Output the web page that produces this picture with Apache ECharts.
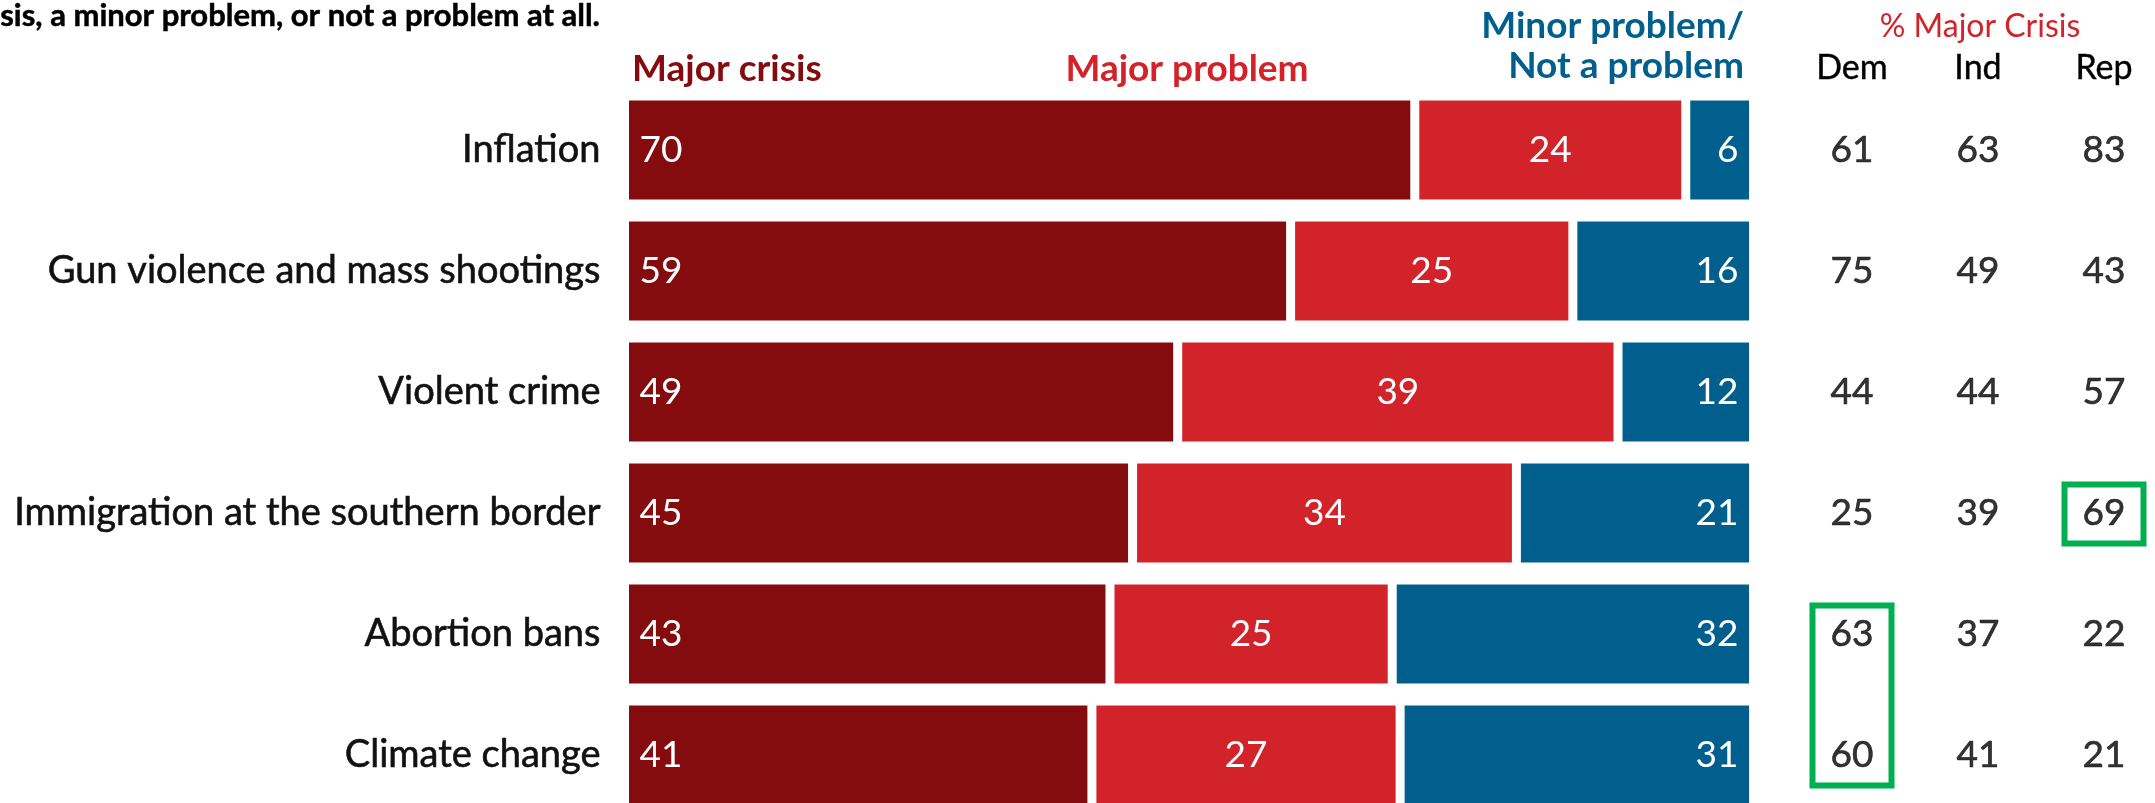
<!DOCTYPE html>
<html>
<head>
<meta charset="utf-8">
<script src="https://cdn.jsdelivr.net/npm/echarts@6/dist/echarts.min.js"></script>
<style>
html,body{margin:0;padding:0;background:#fff;overflow:hidden;width:2155px;height:803px;}
#chart{width:2220px;height:860px;}
</style>
</head>
<body>
<div id="chart"></div>
<script>
const categories = ['Inflation', 'Gun violence and mass shootings', 'Violent crime', 'Immigration at the southern border', 'Abortion bans', 'Climate change'];
const majorCrisis = [70, 59, 49, 45, 43, 41.4];
const majorProblem = [24, 25, 39, 34, 25, 27.3];
const minorNotProblem = [6, 16, 12, 21, 32, 31.3];
const partyCols = ['Dem', 'Ind', 'Rep'];
const demCrisis = [61, 75, 44, 25, 63, 60];
const indCrisis = [63, 49, 44, 39, 37, 41];
const repCrisis = [83, 43, 57, 69, 22, 21];
const seriesNames = ['Major crisis', 'Major problem', 'Minor problem/\nNot a problem'];
const subtitleText = 'sis, a minor problem, or not a problem at all.';
const rightTitle = '% Major Crisis';
// highlighted cells: column, first row, last row
const highlightCells = [['Rep', 3, 3], ['Dem', 4, 5]];

const FONT = 'Lato, "Noto Sans", sans-serif';
const C_DARK = '#840C0F', C_RED = '#D3232A', C_BLUE = '#005F8C', C_GREEN = '#00B050';

const partyData = [demCrisis, indCrisis, repCrisis];
const scatterData = [];
partyCols.forEach((p, c) => categories.forEach((cat, r) => scatterData.push([p, cat, partyData[c][r]])));

const chart = echarts.init(document.getElementById('chart'), null, {renderer: 'canvas'});

const BORDER = 4.5;
const barLabelBase = {show: true, color: '#fff', fontFamily: FONT, fontSize: 37, formatter: p => Math.round(p.value)};

function barSeries(name, data, color, labelPos, dist) {
  return {
    type: 'bar', name: name, stack: 'all', data: data, barWidth: 108,
    xAxisIndex: 0, yAxisIndex: 0,
    itemStyle: {color: color, borderColor: '#fff', borderWidth: BORDER},
    label: Object.assign({}, barLabelBase, {position: labelPos, distance: dist}),
    emphasis: {disabled: true}, animation: false
  };
}

const option = {
  animation: false,
  grid: [
    {left: 624.5, width: 1129, top: 89.5, height: 726},
    {left: 1789, width: 378, top: 89.5, height: 726}
  ],
  xAxis: [
    {type: 'value', gridIndex: 0, min: 0, max: 100, show: false},
    {type: 'category', gridIndex: 1, data: partyCols, position: 'top',
     axisLine: {show: false}, axisTick: {show: false}, splitLine: {show: false},
     axisLabel: {color: '#000', fontFamily: FONT, fontSize: 34, margin: 4,
                 textBorderColor: '#000', textBorderWidth: 0.4}}
  ],
  yAxis: [
    {type: 'category', gridIndex: 0, data: categories, inverse: true,
     axisLine: {show: false}, axisTick: {show: false},
     axisLabel: {color: '#111', fontFamily: FONT, fontSize: 38, margin: 24,
                 textBorderColor: '#111', textBorderWidth: 0.6}},
    {type: 'category', gridIndex: 1, data: categories, inverse: true, show: false}
  ],
  series: [
    barSeries(seriesNames[0], majorCrisis, C_DARK, 'insideLeft', 15),
    barSeries(seriesNames[1], majorProblem, C_RED, 'inside', 0),
    barSeries(seriesNames[2], minorNotProblem, C_BLUE, 'insideRight', 15),
    {type: 'scatter', xAxisIndex: 1, yAxisIndex: 1, data: scatterData, symbolSize: 0,
     label: {show: true, position: 'inside', color: '#000', fontFamily: FONT, fontSize: 37,
             textBorderColor: '#000', textBorderWidth: 0.6,
             formatter: p => p.value[2]},
     emphasis: {disabled: true}}
  ],
  graphic: [
    {type: 'text', left: 0, top: 0, style: {text: subtitleText, fill: '#000', font: 'bold 31px ' + FONT, stroke: '#000', lineWidth: 0.5}},
    {type: 'text', x: 632, y: 69, style: {text: seriesNames[0], fill: C_DARK, font: 'bold 37px ' + FONT, verticalAlign: 'middle', align: 'left'}},
    {type: 'text', x: 1187, y: 69, style: {text: seriesNames[1], fill: C_RED, font: 'bold 37px ' + FONT, verticalAlign: 'middle', align: 'center'}},
    {type: 'text', x: 1744, y: 26, style: {text: 'Minor problem/', fill: C_BLUE, font: 'bold 37px ' + FONT, verticalAlign: 'middle', align: 'right'}},
    {type: 'text', x: 1744, y: 66, style: {text: 'Not a problem', fill: C_BLUE, font: 'bold 37px ' + FONT, verticalAlign: 'middle', align: 'right'}},
    {type: 'text', x: 1980, y: 27, style: {text: rightTitle, fill: C_RED, font: '32px ' + FONT, verticalAlign: 'middle', align: 'center'}}
  ]
};
chart.setOption(option);

// Highlight boxes positioned through the second grid's scales
const boxes = highlightCells.map(([col, r0, r1]) => {
  const p0 = chart.convertToPixel({gridIndex: 1}, [col, categories[r0]]);
  const p1 = chart.convertToPixel({gridIndex: 1}, [col, categories[r1]]);
  return {type: 'rect', shape: {x: p0[0] - 39.5, y: p0[1] - 28.5, width: 79, height: (p1[1] - p0[1]) + 59},
          style: {fill: 'none', stroke: C_GREEN, lineWidth: 6}, z: 10};
});
chart.setOption({graphic: option.graphic.concat(boxes)});
</script>
</body>
</html>
